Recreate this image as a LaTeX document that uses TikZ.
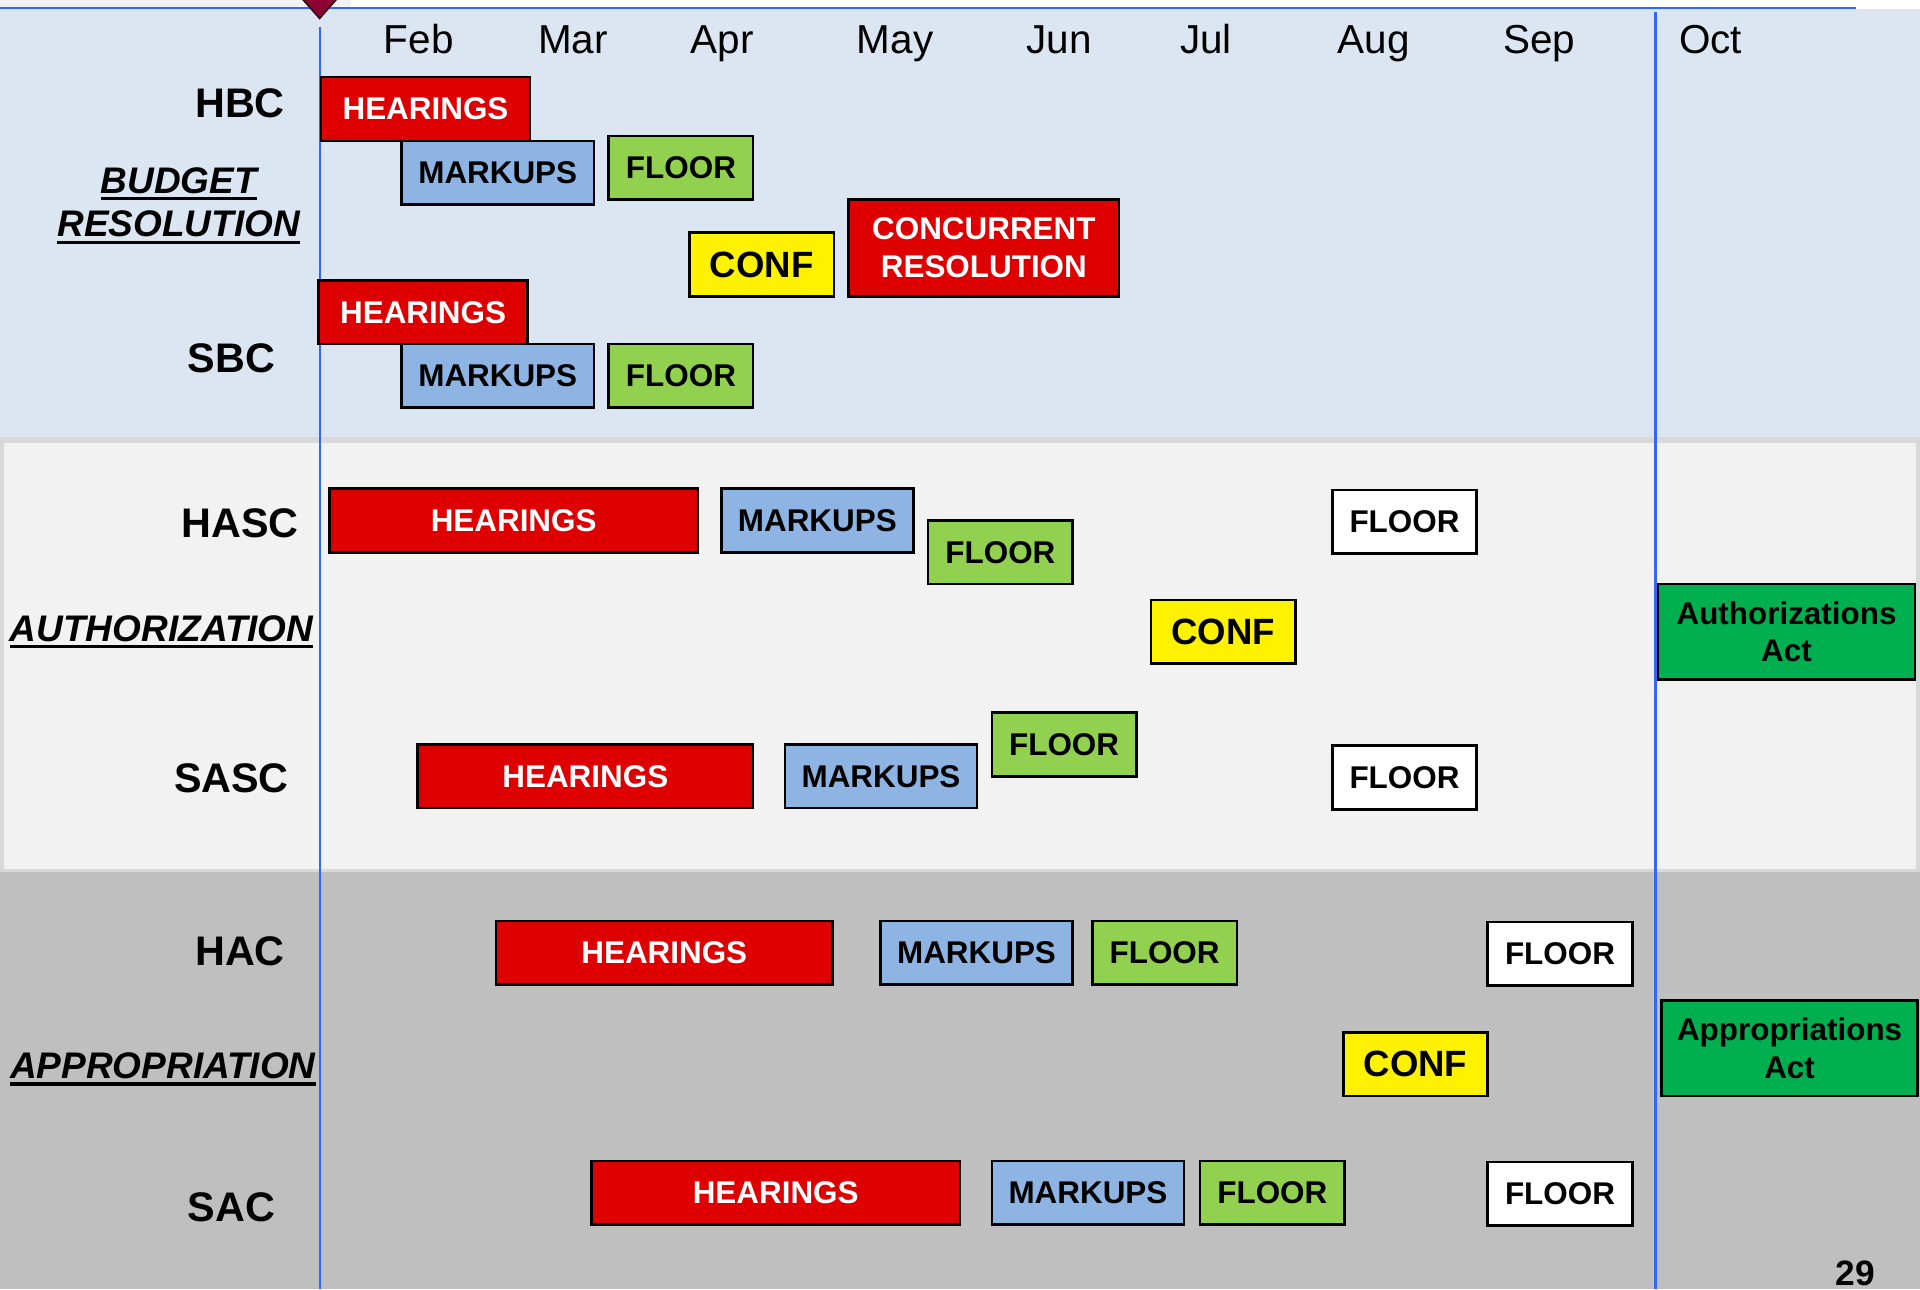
\documentclass[tikz,border=0pt]{standalone}
\usepackage{fontspec}
\setmainfont{Liberation Sans}
\usetikzlibrary{positioning}

\definecolor{barred}{RGB}{222,0,0}
\definecolor{barblue}{RGB}{142,180,227}
\definecolor{bargreen}{RGB}{146,208,80}
\definecolor{actgreen}{RGB}{0,176,80}
\definecolor{bandblue}{RGB}{220,230,242}
\definecolor{bandlight}{RGB}{242,242,242}
\definecolor{bandgray}{RGB}{191,191,191}
\definecolor{sepgray}{RGB}{217,217,217}
\definecolor{lineblue}{RGB}{51,102,255}
\definecolor{marker}{RGB}{140,0,50}

\newcommand{\thickul}[1]{\setbox0=\hbox{#1}\rlap{\rule[-1.7pt]{\wd0}{0.8pt}}\box0}

\begin{document}
\begin{tikzpicture}[x=0.1mm,y=-0.1mm,
		bar/.style={draw=black,line width=0.6pt,inner sep=0pt,minimum height=5.2mm,align=center,font=\bfseries\fontsize{7.3}{8.8}\selectfont},
		hearing/.style={bar,fill=barred,text=white},
		markup/.style={bar,fill=barblue,minimum width=15.7mm},
		floor/.style={bar,fill=bargreen,minimum width=11.8mm},
		final/.style={bar,fill=white,minimum width=11.8mm},
		conf/.style={bar,fill=yellow,minimum width=11.8mm,font=\bfseries\fontsize{8.5}{10}\selectfont},
		act/.style={bar,fill=actgreen,minimum width=21mm,minimum height=7.8mm},
		month/.style={anchor=base,font=\fontsize{9.4}{11}\selectfont},
		cttee/.style={font=\bfseries\fontsize{9.6}{11}\selectfont},
		process/.style={align=center,font=\bfseries\itshape\fontsize{8.6}{10.2}\selectfont}]
		\clip (0,0) rectangle (1568,1053);

		% background bands
		\fill[white] (0,0) rectangle (1568,1053);
		\fill[bandlight] (0,0) rectangle (287,7);
		\fill[bandblue] (0,7) rectangle (1568,357);
		\fill[sepgray] (0,357) rectangle (1568,712);
		\fill[bandlight] (3,362) rectangle (1565,710);
		\fill[bandgray] (0,712) rectangle (1568,1053);
		\draw[lineblue,line width=0.6pt] (0,6.5) -- (1516,6.5);
		\draw[lineblue,line width=0.5pt] (261,22) -- (261,1053);
		\draw[lineblue,line width=0.5pt] (1352,10) -- (1352,1053);
		\filldraw[fill=marker,draw=black!60!marker,line width=0.4pt] (246,-2) -- (276,-2) -- (261,15) -- cycle;

		% months
		\foreach \m/\x in {Feb/342,Mar/468,Apr/590,May/731,Jun/865,Jul/985,Aug/1122,Sep/1257,Oct/1397}
			\node[month] (\m) at (\x,44) {\m};

		% committees
		\node[cttee]	(hbc)	at (196,84)		{HBC};
		\node[cttee]	(sbc)	at (189,293)	{SBC};
		\node[cttee]	(hasc)	at (196,427)	{HASC};
		\node[cttee]	(sasc)	at (189,636)	{SASC};
		\node[cttee]	(hac)	at (196,777)	{HAC};
		\node[cttee]	(sac)	at (189,986)	{SAC};

		\node[process]	(budget)	at (146,168)	{\thickul{BUDGET}\\\thickul{RESOLUTION}};
		\node[process]	(auth)		at (132,516)	{\thickul{AUTHORIZATION}};
		\node[process]	(approp)	at (133,873)	{\thickul{APPROPRIATION}};

		% budget resolution
		\node[hearing,minimum width=17.1mm]						(hbcHear)	at (347.5,89)	{HEARINGS};
		\node[markup]											(hbcMark)	at (406.5,141)	{MARKUPS};
		\node[floor,right=1mm of hbcMark,yshift=0.4mm]			(hbcFloor)				{FLOOR};
		\node[conf]												(budConf)	at (622,216)	{CONF};
		\node[hearing,minimum width=22.1mm,minimum height=7.9mm]	(concRes)	at (803.5,202.5)	{CONCURRENT\\RESOLUTION};
		\node[hearing,minimum width=17.1mm]						(sbcHear)	at (345.5,255)	{HEARINGS};
		\node[markup]											(sbcMark)	at (406.5,307)	{MARKUPS};
		\node[floor,right=1mm of sbcMark]						(sbcFloor)				{FLOOR};

		% authorization
		\node[hearing,minimum width=30.1mm]	(hascHear)	at (419.5,425)	{HEARINGS};
		\node[markup]						(hascMark)	at (667.5,425)	{MARKUPS};
		\node[floor]						(hascFloor)	at (817,451)	{FLOOR};
		\node[final]						(hascFinal)	at (1147,426)	{FLOOR};
		\node[conf]							(authConf)	at (999,516)	{CONF};
		\node[act]							(authAct)	at (1459,516)	{Authorizations\\Act};
		\node[hearing,minimum width=27.4mm]	(sascHear)	at (478,634)	{HEARINGS};
		\node[markup]						(sascMark)	at (719.5,634)	{MARKUPS};
		\node[floor]						(sascFloor)	at (869,608)	{FLOOR};
		\node[final]						(sascFinal)	at (1147,635)	{FLOOR};

		% appropriation
		\node[hearing,minimum width=27.5mm]	(hacHear)	at (542.5,778)	{HEARINGS};
		\node[markup]						(hacMark)	at (797.5,778)	{MARKUPS};
		\node[floor,right=1.4mm of hacMark]	(hacFloor)				{FLOOR};
		\node[final]						(hacFinal)	at (1274,779)	{FLOOR};
		\node[conf]							(appConf)	at (1156,869)	{CONF};
		\node[act,minimum width=20.9mm]		(appAct)	at (1461.5,856)	{Appropriations\\Act};
		\node[hearing,minimum width=30.1mm]	(sacHear)	at (633.5,974)	{HEARINGS};
		\node[markup]						(sacMark)	at (888.5,974)	{MARKUPS};
		\node[floor,right=1.1mm of sacMark]	(sacFloor)				{FLOOR};
		\node[final]						(sacFinal)	at (1274,975)	{FLOOR};

		\node[anchor=base,font=\bfseries\fontsize{8.2}{10}\selectfont]	(pageNo)	at (1515,1050)	{29};
	\end{tikzpicture}
\end{document}
